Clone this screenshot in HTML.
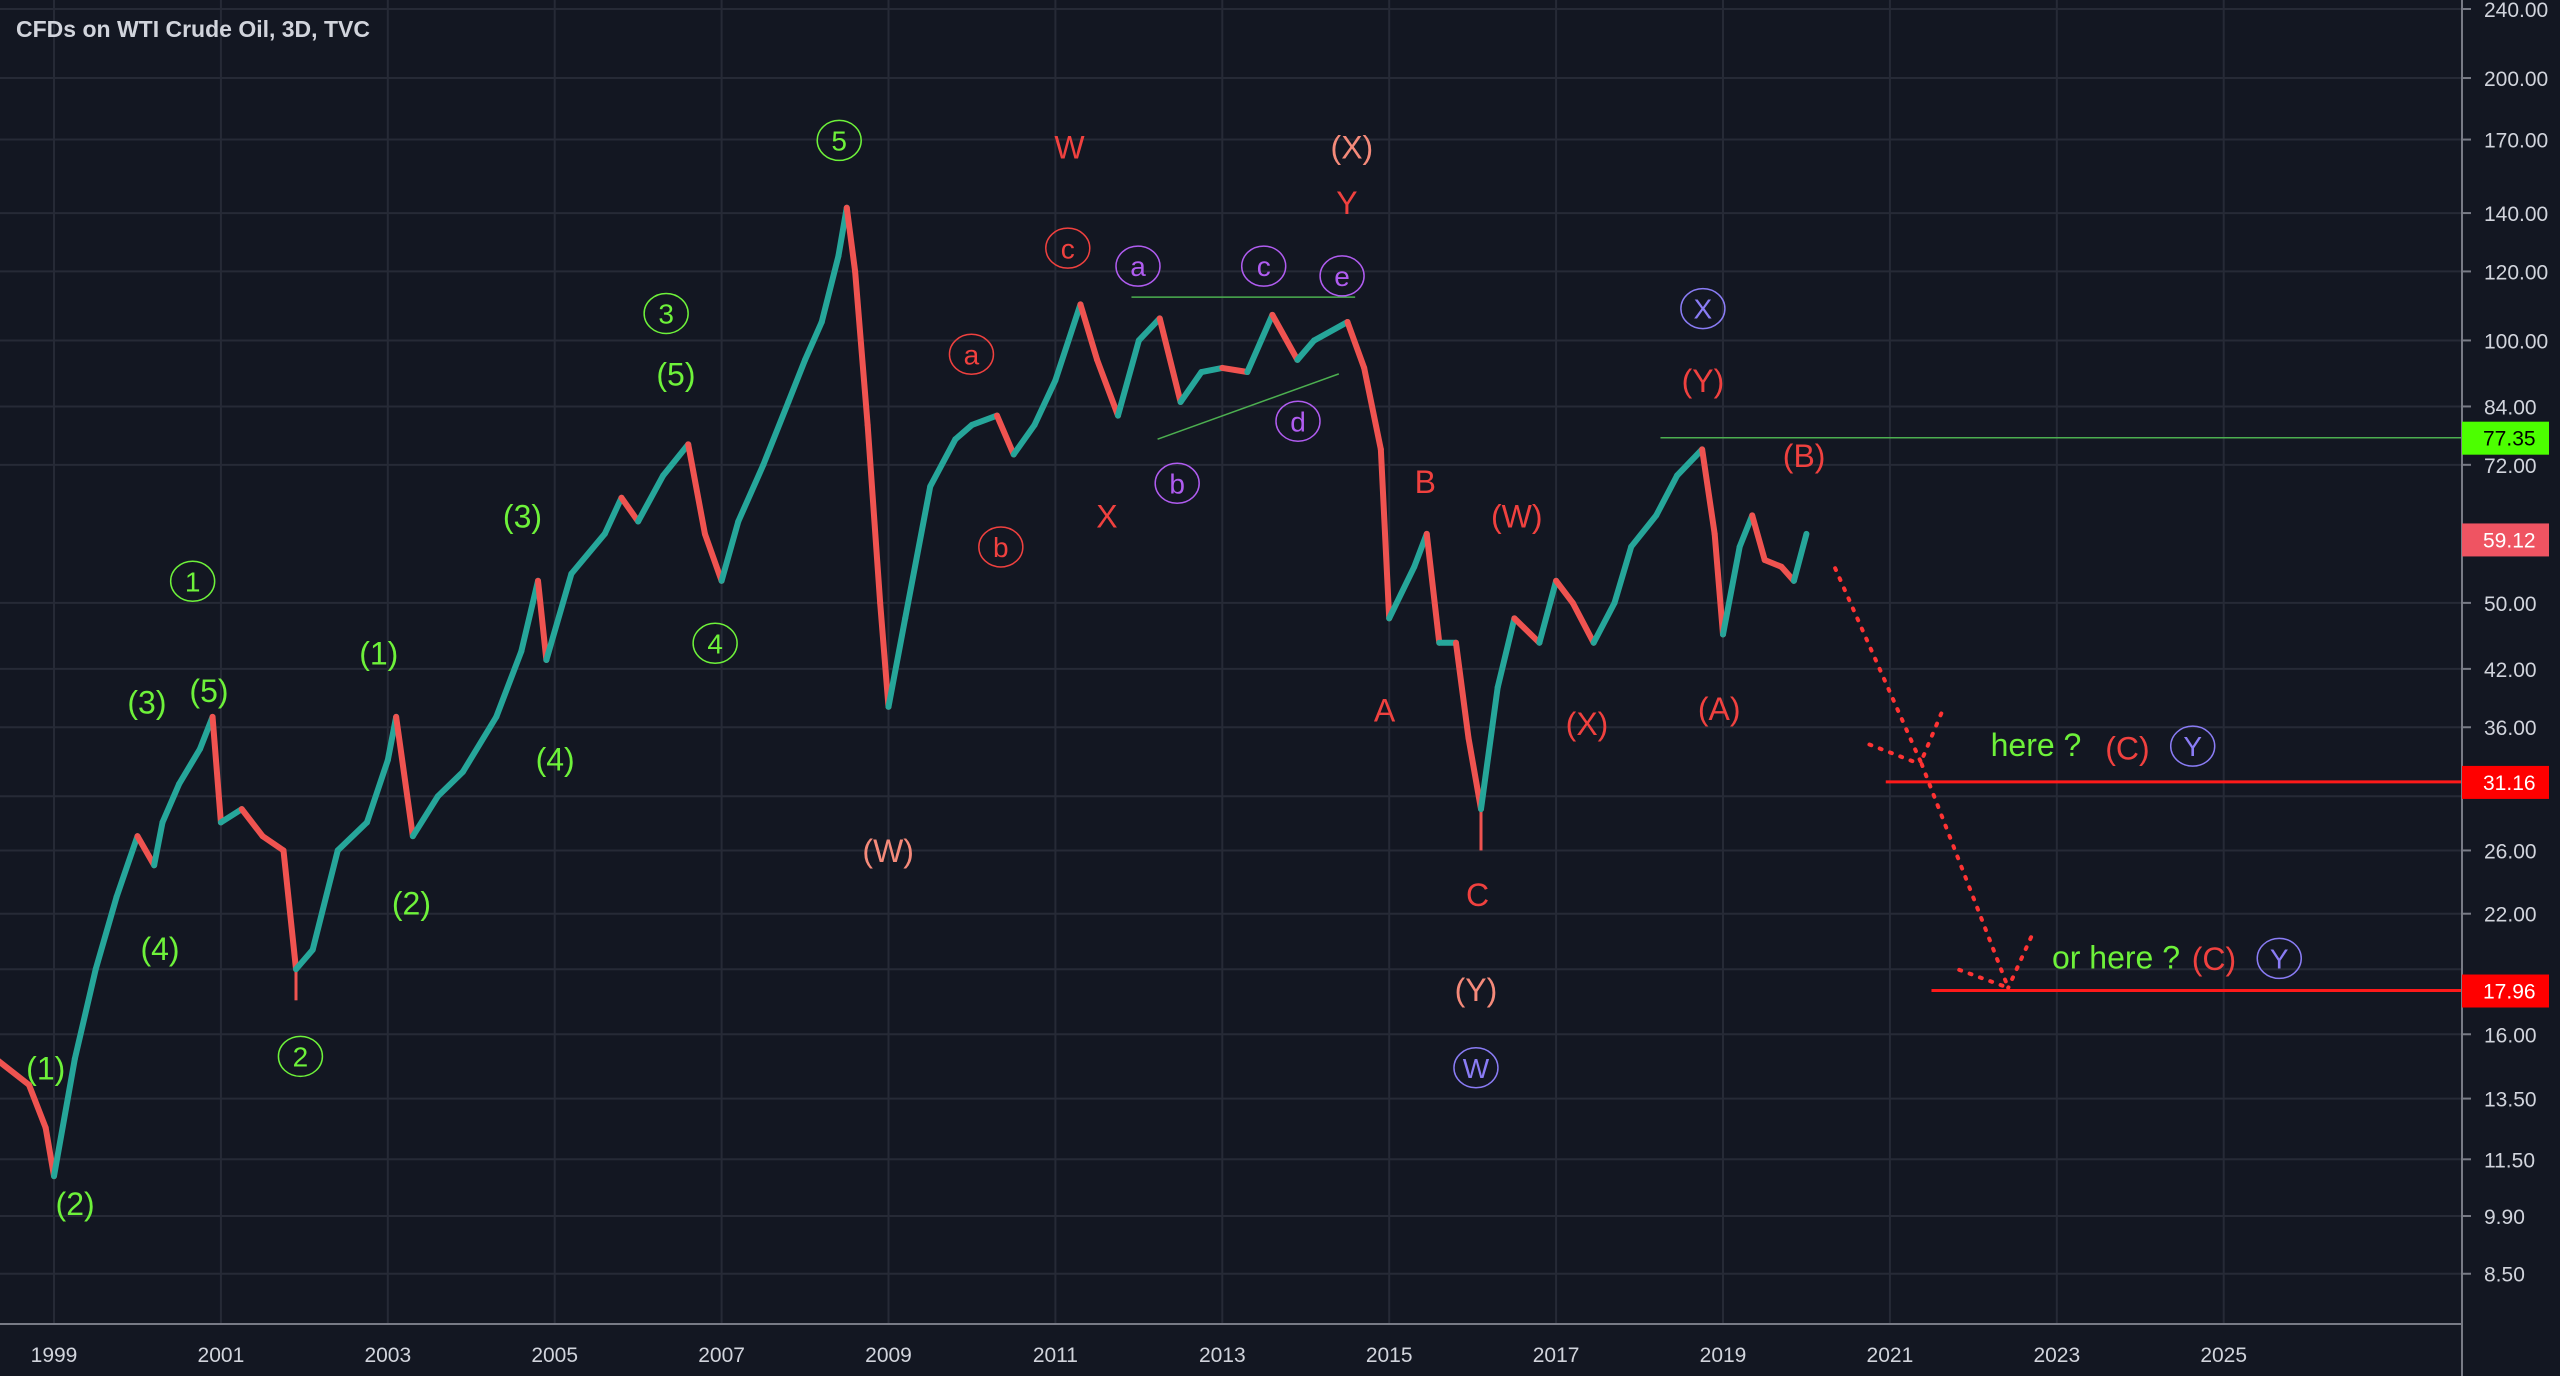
<!DOCTYPE html>
<html><head><meta charset="utf-8"><style>
html,body{margin:0;padding:0;background:#131722;}
svg{display:block;font-family:"Liberation Sans",sans-serif;}
</style></head><body>
<svg id="c" width="2560" height="1376" viewBox="0 0 2560 1376">
<rect width="2560" height="1376" fill="#131722"/>
<g id="grid"></g>
<g id="price"></g>
<g id="ann"></g>
<g id="axes"></g>
<text x="16" y="37" fill="#d1d4dc" font-size="23" font-weight="bold">CFDs on WTI Crude Oil, 3D, TVC</text>
</svg>
<script>
const years = [1998.3,1998.7,1998.9,1999.0,1999.25,1999.5,1999.75,2000.0,2000.2,2000.3,2000.5,2000.75,2000.9,2001.0,2001.25,2001.5,2001.75,2001.9,2002.1,2002.4,2002.75,2003.0,2003.1,2003.3,2003.6,2003.9,2004.3,2004.6,2004.8,2004.9,2005.2,2005.6,2005.8,2006.0,2006.3,2006.6,2006.8,2007.0,2007.2,2007.5,2007.8,2008.0,2008.2,2008.4,2008.5,2008.6,2008.75,2008.9,2009.0,2009.2,2009.5,2009.8,2010.0,2010.3,2010.5,2010.75,2011.0,2011.3,2011.5,2011.75,2012.0,2012.25,2012.5,2012.75,2013.0,2013.3,2013.6,2013.9,2014.1,2014.5,2014.7,2014.9,2015.0,2015.3,2015.45,2015.6,2015.8,2015.95,2016.1,2016.3,2016.5,2016.8,2017.0,2017.2,2017.45,2017.7,2017.9,2018.2,2018.45,2018.75,2018.9,2019.0,2019.2,2019.35,2019.5,2019.7,2019.85,2020.0];
const closes = [15,14,12.5,11,15,19,23,27,25,28,31,34,37,28,29,27,26,19,20,26,28,33,37,27,30,32,37,44,53,43,54,60,66,62,70,76,60,53,62,72,85,95,105,125,142,120,80,50,38,48,68,77,80,82,74,80,90,110,95,82,100,106,85,92,93,92,107,95,100,105,93,75,48,55,60,45,45,35,29,40,48,45,53,50,45,50,58,63,70,75,60,46,58,63,56,55,53,60];
const lows = {"1999.0":10.7,"2001.9":17.5,"2009.0":33,"2015.0":43,"2016.1":26,"2019.0":42.5,"2008.5":142,"2003.1":37};
const tickPrices = [240,200,170,140,120,100,84,72,50,42,36,30,26,22,19,16,13.5,11.5,9.9,8.5];
const tickLabels = ["240.00","200.00","170.00","140.00","120.00","100.00","84.00","72.00","50.00","42.00","36.00","","26.00","22.00","","16.00","13.50","11.50","9.90","8.50"];
const yearTicks = [1999,2001,2003,2005,2007,2009,2011,2013,2015,2017,2019,2021,2023,2025];

const NS="http://www.w3.org/2000/svg";
const X=yr=>54+(yr-1999)*83.45;
const Y=p=>9+378.6*Math.log(240/p);
const S=1.6327;
function mk(tag,attrs,parent){const e=document.createElementNS(NS,tag);for(const k in attrs)e.setAttribute(k,attrs[k]);parent.appendChild(e);return e;}
const grid=document.getElementById('grid'),price=document.getElementById('price'),ann=document.getElementById('ann'),axes=document.getElementById('axes');
const R=2462;
tickPrices.forEach((p,i)=>{
  const l=mk('line',{x1:0,x2:R,y1:Y(p),y2:Y(p),stroke:'#262a36','stroke-width':2},grid);
  
  
  if(tickLabels[i]){
    mk('line',{x1:R,x2:R+9,y1:Y(p),y2:Y(p),stroke:'#787b86','stroke-width':2},axes);
    const t=mk('text',{x:R+22,y:Y(p)+8,fill:'#d1d4dc','font-size':21},axes);t.textContent=tickLabels[i];
    
    
  }
});
yearTicks.forEach(yr=>{
  const l=mk('line',{x1:X(yr),x2:X(yr),y1:0,y2:1324,stroke:'#262a36','stroke-width':2},grid);
  
  
  const t=mk('text',{x:X(yr),y:1362,fill:'#d1d4dc','font-size':21,'text-anchor':'middle'},axes);t.textContent=yr;
  
  
});
mk('line',{x1:R,x2:R,y1:0,y2:1376,stroke:'#787b86','stroke-width':2},axes);
mk('line',{x1:0,x2:R,y1:1324,y2:1324,stroke:'#787b86','stroke-width':2},axes);
for(let i=1;i<closes.length;i++){
  const o=closes[i-1],c=closes[i];
  const col=c>=o?'#26a69a':'#ef5350';
  const seg=mk('line',{x1:X(years[i-1]),y1:Y(o),x2:X(years[i]),y2:Y(c),stroke:col,'stroke-width':6,'stroke-linecap':'round'},price);
  
  
  const lw=lows[String(years[i])];
  if(lw){const w=mk('line',{x1:X(years[i]),x2:X(years[i]),y1:Y(c),y2:Y(lw),stroke:col,'stroke-width':3},price);
    
    }
}
function line(x1,y1,x2,y2,col,w,dash,name){const l=mk('line',{x1,y1,x2,y2,stroke:col,'stroke-width':w},ann);if(dash){l.setAttribute('stroke-dasharray',dash);l.setAttribute('stroke-linecap','round');}}
line(693*S,182*S,830*S,182*S,'#4caf50',1.5,null,'triangle-top-line');
line(709*S,269*S,820*S,229*S,'#4caf50',1.5,null,'triangle-bottom-line');
line(1017*S,Y(77.35),R,Y(77.35),'#4caf50',1.5,null,'level-77-line');
line(1155*S,Y(31.16),R,Y(31.16),'#ff1a1a',3,null,'level-31-line');
line(1183*S,Y(17.96),R,Y(17.96),'#ff1a1a',3,null,'level-18-line');
const dot='2 9';
line(1124*S,348*S,1177*S,468*S,'#ff3333',4,dot,'projection-arrow-1');
line(1145*S,456*S,1176*S,468*S,'#ff3333',4,dot,'arrowhead-1a');
line(1189*S,437*S,1176*S,468*S,'#ff3333',4,dot,'arrowhead-1b');
line(1177*S,468*S,1230*S,605*S,'#ff3333',4,dot,'projection-arrow-2');
line(1200*S,594*S,1230*S,605*S,'#ff3333',4,dot,'arrowhead-2a');
line(1244*S,574*S,1230*S,605*S,'#ff3333',4,dot,'arrowhead-2b');
function plabel(p,bg,fg,txt,name){const r=mk('rect',{x:R,y:Y(p)-16,width:87,height:33,fill:bg},axes);
  const t=mk('text',{x:R+21,y:Y(p)+8,fill:fg,'font-size':21},axes);t.textContent=txt;}
plabel(77.35,'#4cff00','#000','77.35','price-label-77');
plabel(59.12,'#ef5462','#fff','59.12','price-label-59');
plabel(31.16,'#ff0000','#fff','31.16','price-label-31');
plabel(17.96,'#ff0000','#fff','17.96','price-label-18');
const G='#6ef23a',RD='#f0413f',SA='#f58a7a',PU='#b05cf0',BL='#8a7cf5';
const labels=[
[28,654,'(1)',G],[46,737,'(2)',G],[90,430,'(3)',G],[128,423,'(5)',G],[98,581,'(4)',G],[118,356,'1',G,1],[184,647,'2',G,1],
[232,400,'(1)',G],[252,553,'(2)',G],[320,316,'(3)',G],[340,465,'(4)',G],[408,192,'3',G,1],[414,229,'(5)',G],[438,394,'4',G,1],[514,86,'5',G,1],
[544,521,'(W)',SA],[655,90,'W',RD],[828,90,'(X)',SA],[825,124,'Y',RD],[654,152,'c',RD,1],[595,217,'a',RD,1],[613,335,'b',RD,1],[678,316,'X',RD],
[697,163,'a',PU,1],[721,296,'b',PU,1],[774,163,'c',PU,1],[795,258,'d',PU,1],[822,169,'e',PU,1],
[873,295,'B',RD],[848,435,'A',RD],[905,548,'C',RD],[904,606,'(Y)',SA],[904,654,'W',BL,1],
[929,316,'(W)',RD],[972,443,'(X)',RD],[1043,189,'X',BL,1],[1043,233,'(Y)',RD],[1105,279,'(B)',RD],[1053,434,'(A)',RD],
[1247,456,'here ?',G],[1303,458,'(C)',RD],[1343,457,'Y',BL,1],[1296,586,'or here ?',G],[1356,587,'(C)',RD],[1396,587,'Y',BL,1]
];
labels.forEach(L=>{
  const [x,y,t,c,circ]=L;const cx=x*S,cy=y*S;
  if(circ){const e=mk('ellipse',{cx,cy,rx:22,ry:20,fill:'none',stroke:c,'stroke-width':1.5},ann);
    
    }
  const fs=circ?28:32;
  const te=mk('text',{x:cx,y:cy+fs*0.36,fill:c,'font-size':fs,'text-anchor':'middle'},ann);te.textContent=t;
  
  
});
</script>
</body></html>
